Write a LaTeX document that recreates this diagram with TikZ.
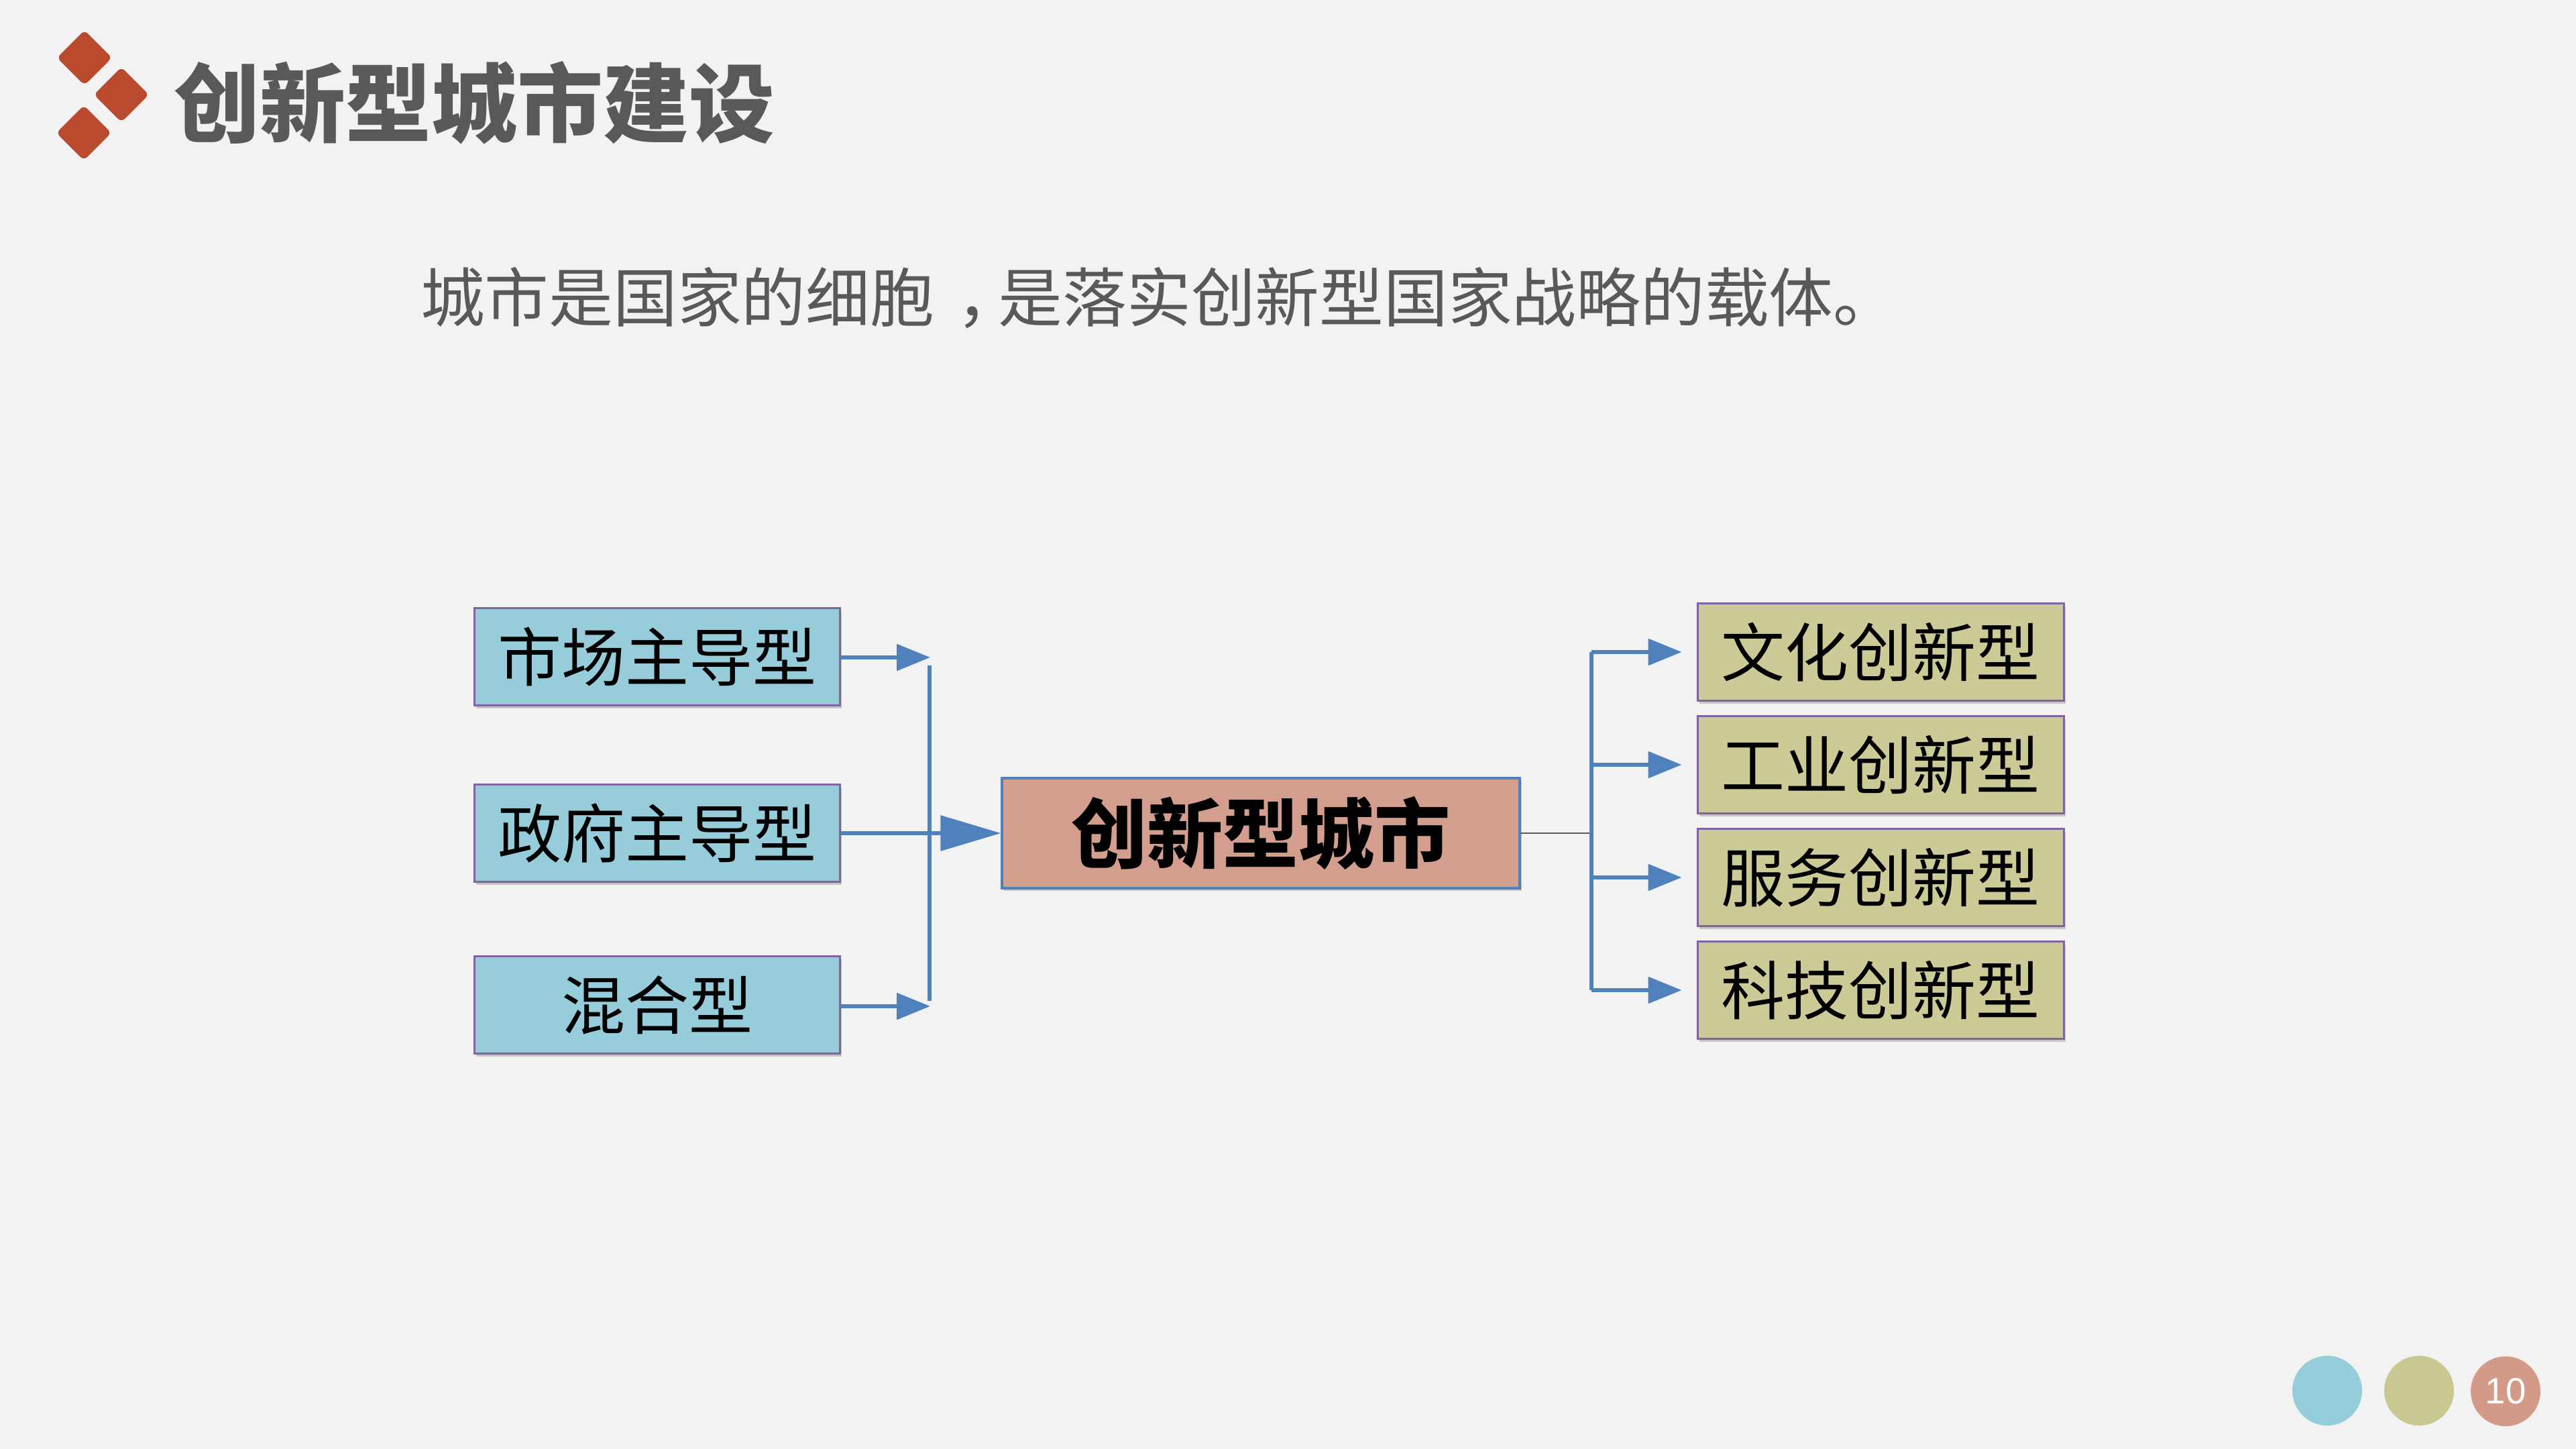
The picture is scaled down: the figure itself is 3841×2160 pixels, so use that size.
\documentclass[tikz,border=0pt]{standalone}
\usepackage{fontspec}
\newfontfamily\cjk{Noto Sans CJK SC}
\newfontfamily\arialf{Liberation Sans}
\usetikzlibrary{arrows.meta,shadows}
\definecolor{bg}{RGB}{242,242,242}
\definecolor{dia}{RGB}{186,74,46}
\definecolor{titlegray}{RGB}{89,89,89}
\definecolor{lblue}{RGB}{151,204,218}
\definecolor{olivef}{RGB}{204,202,150}
\definecolor{salmonf}{RGB}{211,158,142}
\definecolor{purp}{RGB}{128,100,162}
\definecolor{cblue}{RGB}{79,129,189}
\definecolor{cone}{RGB}{150,205,218}
\definecolor{ctwo}{RGB}{201,200,145}
\definecolor{cthree}{RGB}{212,154,136}
\tikzset{
  boxbase/.style={draw, inner sep=0pt, line width=0.6pt,
    drop shadow={shadow xshift=0.5pt, shadow yshift=-0.8pt, fill=black, opacity=0.18}},
  leftbox/.style={boxbase, fill=lblue, draw=purp, minimum width=109pt, minimum height=29pt,
    font=\cjk\fontsize{19}{19}\selectfont},
  rightbox/.style={boxbase, fill=olivef, draw=purp, minimum width=109.2pt, minimum height=29pt,
    font=\cjk\fontsize{19}{19}\selectfont},
  centerbox/.style={boxbase, fill=salmonf, draw=cblue, line width=0.65pt, minimum width=154.4pt, minimum height=32.8pt,
    font=\cjk\bfseries\fontsize{22.6}{22.6}\selectfont},
  conn/.style={draw=cblue, line width=1.15pt},
  smallarrow/.style={conn, -{Triangle[length=10pt,width=7.8pt]}},
  bigarrow/.style={conn, -{Triangle[length=18pt,width=10.4pt]}},
  thinconn/.style={draw=titlegray, line width=0.4pt},
  dot/.style={circle, inner sep=0pt, minimum size=20.8pt}
}
\begin{document}
\begin{tikzpicture}[x=0.2pt,y=-0.2pt]
\fill[bg] (0,0) rectangle (3841,2160);
\useasboundingbox (0,0) rectangle (3841,2160);
% diamonds
\fill[dia, rounded corners=1.4pt] (126,45) -- (167,86) -- (126,127) -- (85,86) -- cycle;
\fill[dia, rounded corners=1.4pt] (181,100) -- (222,141) -- (181,182) -- (140,141) -- cycle;
\fill[dia, rounded corners=1.4pt] (125,157) -- (166,198) -- (125,239) -- (84,198) -- cycle;
% title
\node[anchor=west, inner sep=0pt, text=titlegray, font=\cjk\bfseries\fontsize{25.6}{25.6}\selectfont] (title) at (258,153) {创新型城市建设};
\node[anchor=west, inner sep=0pt, text=titlegray, font=\cjk\fontsize{19.15}{19.15}\selectfont] (sub) at (626,444) {城市是国家的细胞\kern0.35em，\kern-0.35em是落实创新型国家战略的载体。};
% left boxes
\node[leftbox] (L1) at (980,979) {市场主导型};
\node[leftbox] (L2) at (980,1242) {政府主导型};
\node[leftbox] (L3) at (980,1498) {混合型};
% center
\node[centerbox] (C) at (1880,1242) {创新型城市};
% right boxes
\node[rightbox] (R1) at (2804,972) {文化创新型};
\node[rightbox] (R2) at (2804,1140) {工业创新型};
\node[rightbox] (R3) at (2804,1308) {服务创新型};
\node[rightbox] (R4) at (2804,1476) {科技创新型};
% left connectors
\coordinate (j1) at (1387,980);
\coordinate (j3) at (1387,1500);
\coordinate (v1) at (1386,992);
\coordinate (v3) at (1386,1492);
\draw[smallarrow] (L1.east |- j1) -- (j1);
\draw[smallarrow] (L3.east |- j3) -- (j3);
\draw[conn] (v1) -- (v3);
\draw[bigarrow] (L2.east) -- (C.west);
% right connectors
\coordinate (t0) at (2373,1242);
\coordinate (tt) at (2373,972);
\coordinate (tb) at (2373,1476);
\draw[thinconn] (C.east) -- (t0);
\draw[conn] (tt) -- (tb);
\foreach \r in {R1,R2,R3,R4}{
  \draw[smallarrow, shorten >=4.4pt] (\r.west -| t0) -- (\r.west);
}
% page dots
\node[dot, fill=cone] (d1) at (3470,2073) {};
\node[dot, fill=ctwo] (d2) at (3607,2073) {};
\node[dot, fill=cthree, text=white, font=\arialf\fontsize{10.9}{10.9}\selectfont] (d3) at (3736,2074) {10};
\end{tikzpicture}
\end{document}
